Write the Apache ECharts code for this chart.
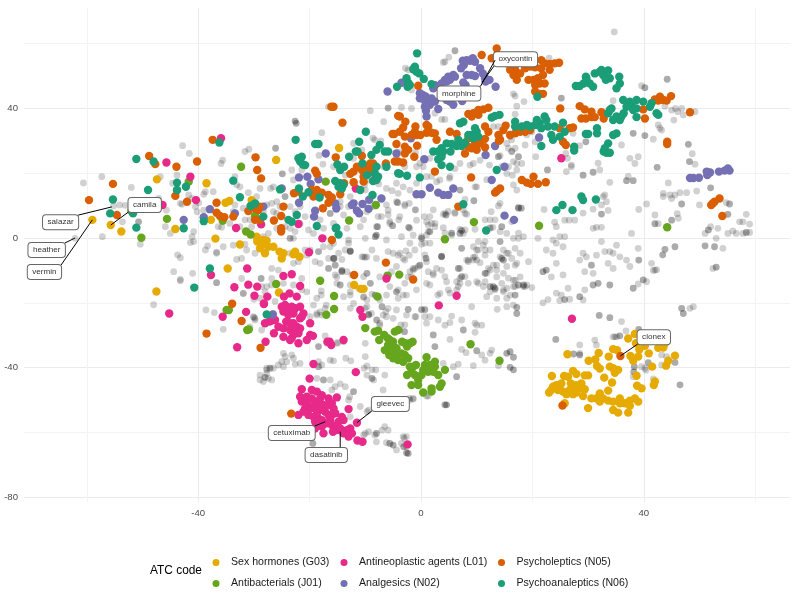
<!DOCTYPE html>
<html><head><meta charset="utf-8">
<style>html,body{margin:0;padding:0;background:#fff}#c{width:800px;height:595px}</style>
<script src="https://cdn.jsdelivr.net/npm/echarts@6/dist/echarts.min.js"></script>
</head><body><div id="c"></div>
<script>
const seriesNames=['Sex hormones (G03)','Antibacterials (J01)','Antineoplastic agents (L01)','Analgesics (N02)','Psycholeptics (N05)','Psychoanaleptics (N06)'];
const xTicks=[-60,-40,-20,0,20,40,60];
const yTicks=[-80,-60,-40,-20,0,20,40,60];
const xTickLabels=[-40,0,40];
const yTickLabels=[-80,-40,0,40];
const sexHormones=[[-14.7,27.8],[-26,24.1],[-47.4,18.1],[-38.5,16.9],[-35.1,10.9],[-34.4,11.4],[-30.4,11.7],[-37.7,5.6],[-44.1,2.8],[-36.9,-.2],[-59,5.6],[-55.7,4],[-53.8,2],[-29.5,.4],[-28.3,-.6],[-29.4,-1.1],[-27.7,-.8],[-28.6,-2.2],[-28.9,-3.2],[-27.4,-2.7],[-26.5,-2.7],[-25.4,-4.2],[-24.7,-4.7],[-25,-6.3],[-28,-4.7],[-22.6,-4.2],[-22.9,-5],[-21.8,-5.8],[-32.5,-2],[-34.7,-9.4],[-47.5,-16.5],[-25.5,-16.8],[-12,-14.5],[-10.8,-15.7],[-10.3,-15.7],[26.3,-35.9],[30.1,-37.9],[31.3,-37.5],[31.9,-35.5],[33.7,-36.6],[34.5,-34.3],[35.2,-34.6],[37.2,-31],[38.4,-29.6],[38.6,-32.5],[39.2,-34.4],[40.2,-33.3],[42.6,-33.9],[43.5,-33.8],[43.8,-32.5],[37.6,-36.4],[38.1,-37.9],[39,-36.6],[40.9,-35.6],[45.6,-36.3],[44.4,-37.9],[44,-39.4],[41.5,-39.7],[31.6,-39.5],[32.1,-40.3],[33.9,-39.7],[34.5,-40.2],[35.4,-40.7],[34.8,-41.6],[32.9,-43.1],[34.3,-44.6],[38.7,-42.5],[38.8,-45.6],[39.6,-46.4],[42,-44.3],[41.8,-45.4],[23.5,-42.6],[25.7,-42.6],[26.4,-42.8],[27.3,-41],[27.9,-42],[29.4,-42.4],[30,-42.4],[23,-47.7],[23.7,-45.9],[24.3,-45.4],[25.2,-44.9],[23.4,-46.9],[24.6,-46.9],[25.5,-47.4],[26.1,-48.2],[26.9,-44.9],[27.9,-45.4],[28.8,-44.9],[27,-46.9],[27.9,-47.7],[28.8,-46.4],[29.4,-46.7],[29.1,-48.8],[30.6,-49.5],[32.1,-48],[33.6,-47.1],[31.5,-49.5],[32.7,-49.5],[33.6,-50.2],[34.5,-50.5],[35.7,-49.5],[35.7,-51],[36.6,-51],[37.5,-50.2],[38.4,-49.5],[39,-50.5],[37.5,-51.8],[37.2,-53.9],[35.4,-53.9],[34.5,-53.1],[30,-52.5],[25.8,-51],[32.1,-50.5],[27.3,-48.2],[26.7,-46.9],[24.9,-45.9]];
const antibacterials=[[-10,-27.8],[-8.3,-28.9],[-7.7,-28.6],[-4.7,-28.9],[-4.1,-28.4],[-7.5,-31.5],[-6.6,-29.9],[-6,-30.9],[-5.6,-31.5],[-5,-32],[-5.9,-33],[-6.5,-34.6],[-5.6,-35.1],[-5,-34],[-4.4,-34],[-3.4,-32],[-2.8,-32.5],[-2.5,-33.5],[-2,-32.5],[-1.5,-32],[-5.7,-36.1],[-5,-37.1],[-4.4,-36.1],[-3.5,-35.6],[-4.1,-37.7],[-3.2,-38.2],[-2.3,-37.1],[-2.9,-36.1],[-2,-39.7],[-1.4,-39.7],[-.9,-39.2],[-1.7,-41.3],[-2.5,-42.3],[-1.1,-42.3],[-.5,-43.8],[-1.7,-45.4],[-.5,-45.4],[1,-36.8],[.7,-39.2],[1.6,-39.2],[2.5,-38.2],[.4,-40.7],[.1,-42.3],[1.3,-41.3],[2.2,-41.3],[3.1,-42.3],[4.3,-40.7],[3.7,-44.9],[3.4,-45.9],[1.9,-46.4],[1.9,-47.4],[.4,-47.7],[2.5,-39.7],[-34.9,-22.2],[-34.5,-22.2],[-31.2,-28.4],[-30.9,-28.2],[-26,-14.2],[-18.1,-13.2],[-15.6,-17.9],[-17,-23.7],[-15.6,-21.9],[-7.8,-18.1],[-6,-11.6],[-3.9,-11.3],[8.9,-32.8],[14.1,-37.9],[9.5,4.9],[4.3,-.4],[21.2,3.8],[44.2,3.3],[-32.3,22],[-41.7,17.4],[-43.8,14.8],[-45.6,5.9],[-35.6,5.3],[-52,8.3],[-50.2,.1],[-29.8,6.9],[-31.4,2],[-30.6,1.1],[-17.1,17.4],[-12.9,5.4],[-8.1,10.2]];
const antineoplastic=[[-35.9,30.8],[-45.7,23.3],[-41.4,18.9],[-46.4,10.2],[-40.4,11.7],[-33.2,3.1],[-28.7,4.2],[-22,4.3],[-17.7,-.1],[-11.7,15.3],[-20.1,-4.4],[-31.2,-9.4],[-37.7,-11.4],[-24.7,-11.7],[-23.2,-11.2],[-6.2,-12.5],[-33.5,-15.2],[-31,-14.4],[-29.4,-15],[-29.9,-17.8],[-27.6,-18.1],[-28.2,-20.4],[-21.7,-14.8],[-24.6,-18.1],[-23.6,-17.1],[-22.3,-18.1],[-45.2,-23.3],[-35.6,-24.3],[-31.4,-22.8],[-28.2,-20.2],[-25,-21.2],[-24.4,-20.7],[-23.2,-21.2],[-22.6,-21.7],[-24.1,-22.2],[-24.7,-22.7],[-23.8,-23.8],[-22.9,-23.3],[-21.7,-21.2],[-21.1,-23.3],[-21.7,-24.8],[-21.4,-24.3],[-24.2,-25.8],[-25.6,-27.4],[-24.7,-27.9],[-22.9,-26.3],[-23.5,-26.3],[-22.3,-27.4],[-21.7,-27.9],[-23.5,-28.4],[-22.6,-28.9],[-22,-29.4],[-23.2,-30.9],[-22.9,-29.9],[-22,-32.5],[-20.5,-31.5],[-19.9,-26.3],[-19.9,-29.9],[-19.4,-30.2],[-26.4,-29.4],[-27.9,-32],[-26.2,-25.3],[-27.2,-25.8],[-28,-26.3],[-26.8,-25.5],[-16.4,-32],[-16.8,-32],[-16.1,-33],[-13.9,-31.5],[-19.3,-38.9],[-11.7,-41.4],[-20,-43.4],[-10.9,-22.2],[-10.5,-24.3],[3.2,-20.8],[-21.4,-46.7],[-19.6,-46.9],[-18.7,-47.4],[-17.8,-48.5],[-16.6,-49.5],[-15.1,-49.2],[-21.7,-49],[-21.4,-50.5],[-20.5,-49],[-19.6,-49.5],[-19,-50.5],[-18.4,-51.5],[-20.5,-51],[-19.9,-52.6],[-19.3,-52.1],[-17.5,-51.5],[-16,-51],[-15.7,-52.6],[-20.8,-52.6],[-22,-54.6],[-20.2,-54.6],[-19.3,-55.2],[-18.4,-55.7],[-17.8,-56.2],[-19,-56.7],[-16.6,-54.6],[-17.2,-53.6],[-16,-54.6],[-16.3,-56.2],[-15.4,-54.1],[-14.2,-55.2],[-13.9,-56.2],[-14.8,-56.7],[-15.1,-58.2],[-16,-57.7],[-16.9,-57.2],[-17.8,-58.2],[-19,-58.7],[-17.5,-60.3],[-15.8,-59.8],[-15.1,-59.3],[-14.5,-58.8],[-13.9,-60.3],[-13,-61.3],[-12.7,-58.8],[-12.4,-60.3],[-13.3,-59.3],[-13,-52.8],[-11.5,-57],[-11.4,-62.5],[-10.5,-62.9],[-18.1,-49.5],[-16.6,-51.5],[-18.1,-53],[-18.7,-54.1],[-21.1,-53.6],[-2.4,-63.7],[6.4,-17.8],[27.1,-24.9],[25.2,24.6],[-33,-33.7],[-24.7,-30.5],[-23.5,-31.5]];
const analgesics=[[-6,45.2],[-3.5,47.9],[7.5,54.7],[7.7,53.4],[8.2,54.9],[8.8,54.7],[9.3,55.5],[9.7,54.4],[7.2,52.4],[10.6,52.4],[11.1,50.8],[11.5,49.3],[12.3,48.8],[11.6,48.3],[13.4,46.7],[8.2,50.3],[9.1,50.3],[9.7,50],[7.6,48],[8,47.2],[4.9,49.8],[5.8,50.3],[6.1,49.8],[4.3,48.8],[3.7,47.7],[5.2,48.8],[4.6,48.3],[2.5,47.2],[2.2,46.2],[2.8,46.7],[-.2,44.7],[.4,44.1],[.9,43.6],[-.2,43.1],[.7,42.4],[1.9,43.1],[2.5,42.1],[1.6,41.1],[.7,40.5],[.9,39.3],[3.1,39.8],[1,37.5],[4.6,42.6],[5.2,42.1],[5.8,41.1],[7.4,42.3],[-1.8,30.8],[13.3,28.4],[11.6,25.6],[.6,24.3],[-17.1,26.1],[15,22],[12.7,17.9],[21.2,31],[1.6,15.5],[3.1,14],[4,13.3],[4.9,13.3],[-.8,13.5],[.1,13.5],[5.8,15.3],[15,6.9],[16.7,5.6],[48.3,18.5],[48.9,18.5],[49.9,18.6],[51.4,19.4],[51.9,20.2],[51.3,20.5],[53.5,20.5],[54.5,20.8],[55.1,21.5],[55.4,20.8],[-15.4,10.7],[-15.2,9.2],[-12.1,10.7],[-12.4,10.2],[-10.5,10.5],[-9.3,11.8],[-7.1,12.2],[-11.5,8.4],[-11.1,7.6],[-9.4,9],[-21.9,18.7],[-20.4,18.9],[-18.4,18.1],[-19.8,16.7],[-25,15.3],[-21.9,10.9],[-28.3,9.7],[-33.4,7.6],[-37.9,8.9],[-39,6.4],[-42.6,5.6],[-19,8.4],[-19.2,6.6],[-4.4,26.1],[-26.6,-23.6]];
const psycholeptics=[[13.6,58.5],[10.9,56.5],[12.7,55.5],[15.4,53.9],[16.3,52.9],[16.9,51.9],[16.6,50.3],[17.2,48.8],[17.8,50.8],[18.7,52.4],[16,51.9],[16.9,53.4],[19.6,52.9],[20.5,52.7],[21.6,54.9],[22.2,53.9],[23.1,53.7],[24,53.9],[24.8,54.1],[21.6,52.4],[21.9,50.3],[21,49.3],[20.2,48.8],[19.3,48.8],[21.3,47.7],[22.2,47.7],[20.5,47.2],[20.5,45.2],[21.3,44.5],[21.9,44.5],[23.1,51.9],[-.5,47],[25,40],[28.5,40.7],[29.4,39.7],[28.8,36.9],[29.6,36.9],[30.6,39],[30.6,37.3],[31.2,37.3],[32.4,38.8],[32.8,36.9],[39.9,39.7],[40.2,36.9],[42,42.8],[42.9,43.6],[42.6,42.4],[43.5,42.6],[44.1,42.4],[44.9,43.8],[48.3,38.8],[44.2,29.7],[44.2,29],[8.5,38.3],[9.4,38.5],[10.3,39.5],[11.2,39.7],[12.1,40.2],[10.3,38],[9.1,37.5],[15.2,34.7],[14.8,33.3],[13.9,31.8],[14.2,30.3],[16,31.8],[16.9,32.3],[17.8,32.8],[18.7,32.8],[19.6,33.3],[11.5,34.4],[12.1,32.8],[11.5,30.6],[14,30],[10.6,29.2],[9.7,29.7],[8.5,30.8],[8.5,28.2],[9.1,27.7],[10,27.2],[9.7,28.7],[7.9,26.1],[11.5,28],[5.2,32.8],[6.4,32.1],[1,34.9],[1.3,34.4],[1,32.5],[1.9,32.5],[2.5,32.3],[2.8,30.3],[-.7,28.5],[-1.2,25.1],[-2.9,28.2],[-1,34.4],[-1.1,32.8],[-.8,31.8],[-1.7,31.8],[-2.9,31.3],[-.1,31.8],[-3.8,37.5],[-2.8,35.9],[-3.2,34.1],[-3.8,32.8],[-2.3,27.2],[-2.9,26.1],[-3.2,23.3],[2.5,20.5],[9,18.7],[24.9,33.9],[26.7,33.9],[27.3,34.1],[25.5,29.7],[26,28.7],[18.1,17.9],[19,17.1],[19.7,16.7],[20.2,18.9],[21,16.7],[22.4,17.2],[13.3,14],[14.2,15.3],[13.6,14.5],[6.7,9.7],[52.1,10.2],[52.7,11.2],[53.6,12.2],[54.1,6.8],[52.4,10.7],[-15.7,40.5],[-16.1,40.5],[-14.1,35.6],[-4.1,37.7],[-5.1,32.1],[-4.8,32.1],[-4.4,29],[-4.7,23.6],[-4.1,23.6],[-15.3,24.9],[-37.4,30.3],[-48.8,25.3],[-47.7,22.8],[-43.9,22],[-40.2,23.6],[-55.3,16.7],[-59.6,11.7],[-54.6,7.1],[-44.1,13],[-42,11.2],[-36.7,10.9],[-36.7,7.8],[-36.1,6.8],[-35.3,6.4],[-33.7,6.6],[-31,8.3],[-29.8,9.2],[-29.2,8.6],[-29,9.7],[-29.8,5.6],[-28.9,5.6],[-26.4,5.4],[-25.1,6.8],[-24.7,9.7],[-25.1,3],[-25.1,2],[-29.7,24.9],[-29.4,21],[-28.7,18.4],[-19,20.8],[-18.7,19.8],[-22.8,13.8],[-22,14.3],[-19.6,14.8],[-19,13.8],[-18.7,14.8],[-17.8,14],[-19.3,12.8],[-16.6,13.3],[-16,12.5],[-16.6,10.9],[-17.6,9.2],[-14.5,13.5],[-13.8,16.9],[-12.1,17.2],[-12.7,19.8],[-12.1,20.5],[-11.5,22],[-10.6,25.3],[-10.6,21],[-9.7,22],[-9.1,23],[-8.9,21],[-8.6,23],[-10.3,18.9],[-10.3,17.4],[-9,20.2],[-6.3,23],[-16,-.6],[-12,-11.4],[-6.3,-7.6],[-33.9,-20.3],[-32.2,-25.6],[-38.5,-29.5],[-28.8,-33.9],[-23.3,-54.2],[-1.4,-12.8],[35.8,-36.4],[25.4,-51.7]];
const psychoanaleptics=[[-.7,57],[-1.1,52.9],[-1.4,52.1],[-.8,51.3],[-.3,50.8],[-1.1,51.9],[.5,49.1],[1.9,47.5],[-2.6,49.3],[-2.3,47.9],[-2.4,46.7],[-2,47.2],[-4.3,46.7],[27.8,46.9],[28.5,46.9],[29.2,47.7],[29.7,49.3],[30.3,47.7],[30.9,46.7],[29.6,49.8],[31.2,50.8],[32.1,51.3],[32.7,50.3],[32.4,51.9],[33.6,51.7],[33.2,48.8],[33.9,49.3],[33,49.8],[35.6,49.8],[35.7,47.7],[35.1,46.2],[36.3,42.6],[37.5,42.1],[38.7,42.6],[39.9,42.1],[37.8,41.1],[38.7,40],[36.9,40.5],[36,37.5],[35.1,37.5],[34.2,40],[33.6,38.5],[34.5,36.4],[35.7,36.4],[36.4,38.5],[38.1,39.5],[41.1,40.5],[41.4,41.6],[42.3,38.5],[42.6,38],[38.7,37.3],[20.9,43.6],[33.9,39.5],[12.7,37.2],[13.3,37.7],[14.1,38],[7,35.4],[7.6,35.9],[9.7,33.9],[9.1,31.8],[10,32.8],[8.5,31.8],[9.4,30.8],[10.3,31.3],[4.6,29.2],[5.5,29],[6.4,28.4],[7.3,28.4],[7.9,29.4],[6.7,30.3],[2.2,26.7],[3.1,26.7],[3.7,27.7],[4,26.7],[3.7,25.1],[3.1,24.3],[3.7,22.5],[5.2,22],[5.3,26.7],[16.9,35.9],[16.9,34.4],[18.1,34.4],[19,34.9],[19.6,34.4],[20.8,36.4],[21.3,35.4],[20.5,34.9],[21.6,33.9],[22.2,37.5],[22.5,36.4],[22.8,34.4],[23.4,31.8],[24,34.4],[23.7,30.3],[24.9,31.3],[25.5,35.6],[25.8,32.8],[21.6,28.4],[29.6,32.1],[30,32.1],[31.6,33.9],[31.6,32.3],[35.1,32.3],[34.5,31.8],[27.5,28.2],[27.5,27],[33.6,29.2],[33,27.7],[32.8,26.7],[33.3,26.3],[33.9,26.3],[13.6,21],[-2.5,19.2],[-.2,18.7],[-3.8,19.8],[28.8,12.8],[29.1,11.7],[31.4,11.9],[25.4,10.2],[24.3,8.6],[27.2,8.6],[7.6,10.4],[11.7,2.3],[-51.1,24.4],[-48,23.6],[-49,14.8],[-43.8,17.1],[-43.8,14.8],[-42.2,15.8],[-55.3,11.9],[-55.8,7.6],[-51.7,7.6],[-51.1,3.2],[-42.6,3],[-39,5.2],[-36.2,29.5],[-33.7,17.7],[-32.5,12.6],[-30.6,9.9],[-29.8,10.7],[-28.3,6.6],[-23.8,5.6],[-23.2,5],[-22.3,7.1],[-18.7,3.7],[-22.5,30.3],[-19,29],[-18.4,29],[-21.4,25.1],[-22,24.6],[-21.7,23.6],[-21.2,22.7],[-20.8,22.5],[-25.3,15],[-21.9,15.3],[-21.2,12.8],[-20.2,14.1],[-18.2,12.5],[-15.2,3.2],[-14.8,1.1],[-15.4,17.6],[-14.5,16.9],[-14.8,15.8],[-14.2,15.3],[-13.9,16.4],[-15,22.7],[-14.5,21],[-13.8,22],[-12.9,25.1],[-11.7,26.7],[-11.4,26.7],[-11.1,29.7],[-9.9,32.8],[-10.5,23],[-8.9,25.6],[-8,27.2],[-7.4,28.7],[-6.5,26.7],[-5.9,26.7],[-8,22],[-6.2,22],[-9.7,19.4],[-8.3,20],[-7.7,18.9],[-8.6,17.6],[-8,17.9],[-8.7,13.3],[-4.1,20],[-10.9,14.8],[-40.7,-15.3],[-37.9,-9.4],[-27.7,-23.6],[-15.3,3]];
const otherDrugs=[[-60.6,17],[-57.3,18.9],[-52,15.6],[-55.2,9.9],[-54.1,10.2],[-53.1,10.1],[-53.6,5],[-57.2,.4],[-62.1,-.1],[-50.4,-1.9],[-47.1,12.2],[-46.8,18.9],[-43.8,19.4],[-44.6,16.9],[-45.7,8.6],[-45.9,3.5],[-45,1.4],[-43.7,-5.2],[-43.2,-6.1],[-44.4,-10.4],[-41,-10.9],[-43.2,-12.8],[-42.8,28.5],[-41.6,26.1],[-35.9,23],[-35.6,24],[-37.3,14.3],[-38.7,14.3],[-39,13.5],[-41.7,13.3],[-41.1,12.2],[-43.2,10.7],[-42.9,10.4],[-40.5,9.7],[-39.9,10.9],[-39,8.6],[-40.2,8.1],[-36.4,3.5],[-35.8,3.3],[-40.8,2],[-41.1,.4],[-41.4,-1.4],[-40.8,-1.1],[-38.3,-2.4],[-36.7,-4.4],[-38.7,-3.7],[-35.5,-2.7],[-36.7,-4.7],[-33.7,-2.2],[-33.1,-6.6],[-32.2,-6.3],[-31.3,-3.7],[-29.8,-4.7],[-31.6,-1.9],[-28.6,-2.7],[-33.4,18.9],[-33.1,16.4],[-32.5,15.8],[-31,14],[-28.9,15.3],[-27,15.3],[-29.5,12.8],[-33.4,10.2],[-31.9,9.2],[-33.7,8.1],[-30.7,5.6],[-31.6,5.6],[-32.5,3.5],[-34.3,4.5],[-30.4,3.5],[-31.6,26.7],[-30.9,27.4],[-17.8,32.5],[-9.1,39.3],[-6.7,35.9],[-8.3,30.3],[-8.6,30.8],[-16.6,40.5],[-18.3,25.5],[-17.6,22.8],[-21.4,21],[-22.9,17.9],[-23.2,21],[-26.5,15.8],[-26.8,10.7],[-25.9,11.2],[-27.7,10.2],[-28.3,8.1],[-26.5,8.1],[-25.9,7.6],[-25.3,9.7],[-23.5,9.7],[-22.6,8.1],[-21.7,9.7],[-20.8,6.6],[-21.7,4.5],[-22.6,2],[-23.5,3],[-24.4,3.5],[-25.9,3],[-27.4,1.4],[-28.3,.4],[-22.9,-.1],[-19.3,1.4],[-20.2,2.5],[-18.1,5.6],[-15.7,4.5],[-13.9,7.1],[-17.5,3],[-13.3,3],[-10.9,3.5],[-8,3.5],[-6.2,-.6],[-4.4,11.2],[-5.9,8.6],[-10.3,5.6],[-9.7,8.1],[-19.9,-3.7],[-17.5,-2.7],[-16.3,-2.7],[-15.7,-1.6],[-13,-1.6],[-10.6,-5.8],[-10,-6],[-8.8,-3.7],[-5.9,-4.2],[-8,-6.3],[-16.6,-6.3],[-19,-7.3],[-18.1,-7.8],[-15.4,-8.4],[-7.4,-12],[-4.4,-8.8],[-5.3,-10.4],[-20.5,-5.3],[-20.8,-3.7],[-23.5,-4.7],[-22,-7.3],[-22.9,-7.8],[-26.8,-9.4],[-25.6,-9.9],[-21.4,-12.5],[-26.8,-12.5],[-32.2,-12.5],[-12.1,29.2],[-10.6,27.2],[-7.2,30],[-3.8,26.4],[-6.7,22],[-12.1,24.6],[-15.7,22],[-13.6,19.4],[-11.9,16.9],[-10,14.8],[-6.2,15.3],[-4.4,16.9],[-4.1,13.8],[-6.2,10.2],[-12.7,12.8],[-13,9.7],[-14.5,9.7],[-3.8,6.6],[-5.6,4.5],[-14.5,11.2],[-15.2,8.7],[-14.6,15.8],[-10.1,16.4],[-9.4,17.9],[-7.6,16.7],[-5.2,14.6],[-3.2,15.8],[-2,14.8],[1,18.9],[2.8,17.4],[5.2,18.9],[9.7,15.8],[11.8,18],[10,15.8],[16.6,16.4],[17.2,14.8],[17.5,9.5],[13.9,9.9],[12.6,8.1],[14.2,10.7],[16.4,19.4],[-8.6,9.7],[-7.7,6.6],[-7.1,6.6],[-5.9,7.2],[-5.6,5.1],[-4,5.6],[-2.9,10.4],[-2.1,10.7],[-2.9,9.9],[-2,3],[.6,6.6],[1.6,6.6],[2.2,8.7],[4.3,7.6],[6.1,7.6],[7.9,7.6],[7.6,8.7],[1.3,4],[2.5,4.5],[4.3,1.5],[7.9,2.5],[7,2.7],[9.7,2.7],[11.5,5.6],[12.4,5.6],[13.3,5.6],[16.6,-.1],[17.5,-.1],[18.4,.4],[10.3,-1.1],[11.5,-1.1],[9.4,-2.7],[10,-3.7],[7.3,-3.2],[11.5,-3.7],[8.2,-6.8],[9.7,-5.8],[10,-6.8],[-10,-.1],[-13,-.6],[-3.5,.4],[1,.9],[.1,-1.9],[-1.4,.9],[1.6,-1.6],[-13.6,-3.7],[-15.4,-8.4],[-14.8,-4.7],[-14.2,-6.6],[-10.3,-5.8],[-9.7,-5.8],[-5,-4.7],[-4.1,-5.3],[-2.7,-4],[-2.1,-5.3],[-3.2,-6.3],[-.5,-8.8],[-1.1,-9.4],[-2,-10.4],[-1.7,-12],[-2.9,-14],[-1.4,-9.9],[-.2,-8.4],[2.2,-11.4],[3.7,-9.9],[4.3,-11.9],[6.4,-16],[7,-14],[7.9,-11.9],[4.6,-13.5],[1.6,-14.5],[1,-14],[-2.6,-17.6],[-4.1,-16],[-10.3,-11.9],[-12.4,-11.4],[-13.3,-10.4],[-15.4,-11.4],[-15.1,-14],[-12.7,-14.5],[-14.5,-14.5],[-8.8,-17.3],[-10.3,-18.3],[-11.2,-15.5],[-4.1,-18.6],[-.8,-16],[3,-17.6],[5.2,-17],[8.5,-6.8],[9.4,-6],[10.6,-7.6],[11.5,-5.3],[13,-8.4],[13.6,-9.9],[14.8,-3.7],[15.4,-4.7],[16.3,-6.3],[17.2,-7.8],[11.8,-10.9],[12.4,-9.9],[11.5,-13.5],[14.5,-14],[14.8,-10.9],[15.7,-12.4],[16.6,-13],[18.4,-15],[19,-14.5],[16.6,-15],[15.4,-15.5],[14.8,-16.6],[13.6,-18.6],[11.8,-18.1],[10.3,-14],[11.2,-15],[34.7,63.6],[5,55.8],[4,54.2],[4.3,54.4],[23,55.5],[-2.8,52.4],[-2.3,51.9],[-1.7,45.7],[-1.7,40],[-3.5,40.3],[16.6,44.5],[16.9,43.8],[18.5,42.1],[17.2,40.7],[16.9,38.2],[34.5,42.4],[39.6,47],[43.8,40.7],[45,39.5],[45.7,40],[46.8,40],[46.1,39],[47.1,38],[45.4,36.4],[49.2,39],[3.7,36.6],[4.3,36.6],[2.5,38.5],[13,34.4],[13.9,34.4],[14.2,31.3],[16,31.3],[15.4,29.2],[16.3,30.3],[16.9,27.7],[15.7,27.7],[18.7,28.7],[20.5,29.7],[19,31.8],[19.9,32.8],[27.3,32.3],[26,26.1],[26.3,24.6],[27,22.5],[28.5,28.5],[31.8,23.1],[32.1,21],[26.1,20.5],[27,22],[20.6,25.1],[17.2,23],[16.6,23.6],[18.1,23],[17.2,21],[15.7,22],[15.4,19.9],[14.2,25.4],[14.5,22],[12.3,22.5],[10.6,24],[9.4,23],[8.8,22.5],[7,23],[6.1,21.4],[5.1,18.4],[42.9,33.9],[43.2,33.3],[42.6,34.9],[41.7,30.5],[36,28.7],[37.5,24.6],[39,25.1],[38.4,23],[48.7,26],[49.2,22.8],[37.2,19],[33.9,17.2],[44.4,17],[32.7,12.8],[33.3,11.2],[32.4,10.2],[33.6,8.5],[30.9,8.9],[29.1,7.7],[27.6,5.5],[25.8,5.5],[26.6,5.5],[24,4.9],[22.1,8.8],[33,13.3],[31.5,3.3],[32.4,3.3],[30.9,3],[24.3,3.5],[37.8,1.4],[43.5,13.8],[44.7,13.3],[46.5,14],[47.7,14],[49.5,14.5],[43.5,12.8],[45,12.2],[50,10.2],[54.8,10.9],[45.6,13.3],[40.5,10.5],[39.1,8.8],[42,7.1],[42.6,4.4],[46,7.5],[46.2,6.1],[58.4,7.3],[57.2,5],[57.8,5],[59,4.3],[56,2.2],[57.8,1.4],[56.6,1.4],[59,1.7],[55.1,1.4],[52,3.5],[51,1.4],[53,-.1],[54.2,-3.2],[53.3,3],[41.4,-7.8],[42,-9.9],[52.4,-9.4],[21,-.1],[22.5,-3.7],[23.7,-.6],[24.9,.4],[25.8,.4],[25.5,-2.7],[24.3,-1.6],[23.7,-4.7],[25.5,-11.4],[24.3,-7.8],[29.1,-4.7],[28.5,-6.8],[29.7,-5.8],[31.5,-5.3],[32.4,-1.1],[33,-4.2],[33.9,-4.2],[34.5,-4.7],[35.1,-2.2],[35.7,-5.8],[36.9,-6.8],[37.5,-8.8],[39,-3.2],[33.6,-7.8],[34.5,-9.4],[29.4,-10.4],[30.9,-10.9],[23.4,-12],[12.4,-3.7],[14.2,-5.8],[15.7,-4.7],[16.9,-3.2],[17.8,-4.7],[19.3,-7.3],[16.9,-8.4],[15.4,-8.8],[13.6,-8.4],[12.1,-9.4],[9.4,-6.8],[8.5,-7.3],[10.3,-3.7],[11.2,-2.2],[7.3,-3.2],[1,-7.3],[-.2,-8.4],[2.8,-9.4],[-1.4,-9.4],[7,-9.4],[-2.3,-12],[.7,-5.2],[7,-12.5],[17.8,-12],[13.6,-12],[-2,-1.6],[.1,.4],[-1.1,-3.7],[-3.8,-4.7],[-2.9,-6.8],[.7,-1.6],[-1,26.4],[-.2,23.1],[-2.9,22],[-.8,22],[.4,22],[1.6,24.6],[-.8,16.9],[1.9,19],[3.4,17.9],[7.9,11.9],[8.2,7.3],[4,7.3],[4.9,8.2],[6.1,7.9],[-.8,5.5],[1,5],[1.9,4.5],[2.5,3.5],[1.3,2],[4,3.2],[7.6,1.4],[5.5,.9],[12.9,3.3],[14.2,2],[15.4,1.4],[17.5,1.5],[16.3,5],[1.3,-10.4],[2.2,-10.9],[6.4,-13.5],[6.7,-15],[4.9,-16],[3.4,-17.1],[8.5,-14],[10,-13.5],[12.4,-16.6],[13.3,-16],[14.8,-16],[16.9,-13],[18.7,-15],[19.9,-15.3],[16.9,-15],[16,-17.6],[15.4,-18.6],[16.6,-20.7],[15.4,-21.2],[13.7,-22],[21.9,-20],[22.8,-19],[24.3,-17],[25.2,-17.6],[26.7,-18.9],[24.9,-19.3],[26.4,-15.5],[29.1,-19.1],[29.4,-16],[39,-14.2],[40.5,-13.5],[41.7,-10],[42.3,-9.8],[48.3,-21.7],[48.9,-21.2],[36,-25.8],[36.8,-28.7],[34.5,-30.5],[35.1,-30.5],[34.8,-30.5],[31.2,-31.5],[31.5,-33],[28.5,-33],[28.5,-35.6],[43.2,-36.1],[44.1,-36.6],[43.2,-39.2],[40.2,-40.2],[40.4,-40.8],[39.6,-39.7],[38.1,-42.8],[41.7,-43.5],[3.1,-25.3],[5.5,-24.1],[7.3,-25.3],[5.2,-26.1],[4.3,-26.9],[1,-26.3],[.7,-24.3],[1.6,-24.3],[-3.8,-28.4],[-2.9,-28.9],[9.7,-26.3],[10,-26.9],[10.9,-26.9],[9.7,-29.1],[5.2,-31.3],[2.2,-29.9],[7.3,-34.4],[8.1,-35.4],[12.7,-34.6],[10.9,-36.1],[11.5,-37.7],[12.4,-35.6],[13.9,-39.4],[9.4,-39.4],[6.7,-38.9],[5.8,-39.7],[4,-38.7],[-1.1,-24.3],[.1,-22],[.7,-22],[9.1,-21.2],[-2,-50],[-1.4,-49.5],[1.3,-48.8],[-3.2,-61.3],[-3.5,-63.4],[-30.1,-24.3],[-29.8,-25.3],[-28.6,-28.4],[-30.7,-27.4],[-28,-16.6],[-28.9,-18.6],[-27.4,-18.1],[-26.2,-19.6],[-20.5,-16.6],[-17.2,-30.2],[-16.9,-32.5],[-15,-32.2],[-24.7,-35.6],[-24.4,-36.6],[-25,-38.2],[-24.1,-38.2],[-22.9,-37.1],[-22.6,-38.9],[-24.7,-39.7],[-25.6,-39.2],[-23.2,-36.1],[-21.7,-38.7],[-18.4,-38.2],[-17.8,-39.2],[-16.3,-37.7],[-15.7,-37.9],[-27.7,-40.2],[-26.5,-40.2],[-27.7,-41.8],[-28.9,-42.3],[-27.4,-43.3],[-26.8,-43.8],[-28.9,-43.8],[-28.3,-44.3],[-27.7,-40.7],[-18.7,-43.3],[-16,-46.9],[-15.4,-45.9],[-14.5,-45],[-13.6,-45.9],[-16.3,-43.8],[-12.8,-49],[-13,-50],[-10,-36.6],[-9.7,-39.5],[-10.2,-40.2],[-13.5,-37.1],[-12.6,-37.9],[-6.5,-42.3],[-8.5,-43.8],[-8.8,-40.7],[-8.1,-40.7],[-6.8,-46.9],[-9.7,-42.3],[-10.9,-52],[-9.7,-53.6],[-9.4,-53.1],[-12.7,-55.2],[-10,-60.3],[-9.4,-59.8],[-8.3,-60.8],[-6.5,-58.2],[-5.9,-59.3],[-7,-59.3],[-6.2,-63.2],[-4.4,-65.4],[-2.6,-61.3],[-3,-61.8],[-2.6,-64.4],[-8,-62.9],[-10.3,-60.8],[-2.1,-49.5],[-1.4,-49.7],[1,-48.8],[2.2,-29.9],[.1,-22.2],[.7,-22.2],[-3.2,-17.6],[-.9,-24.3],[-2.6,-23.8],[-3.6,-26.8],[-3,-28.9],[-10,-32.5],[-13.9,-32],[-15,-32.5],[-9.4,-23.8],[-7.4,-19.1],[-6.3,-22.7],[-6.2,-24.3],[-5.9,-21.7],[-10.3,-18.1],[-9.7,-19.1],[-10,-21.7],[-7.9,-25.3],[-7.4,-26.3],[-5,-24.8],[-2.9,-26.8],[-4.4,-22.2],[-13.9,-18.1],[-12.7,-16.6],[-12.7,-21.7],[-17.8,-23.8],[-18.7,-23.8],[-17.2,-21.7],[-48,-20.6],[-38.6,-22.2],[-37.1,-23],[-35.5,-28.2],[-43.2,-13.2],[-30,-18.9],[-30,-24.5],[-28.6,-15],[-27.7,-15],[-26.8,-14.5],[-24.7,-14],[-22.9,-14.5],[-21.4,-16],[-17.9,-16.3],[-17.9,-17.6],[-18.7,-18.6],[-19.3,-20.7],[-18.7,-23.3],[-19.9,-24.3],[-18.1,-22.8],[-17,-20.7],[-26.5,-23.3],[-29.8,-24.8],[-15.1,-12],[-14.5,-14.5],[-12.7,-17.6],[-12.1,-20.2],[-9.7,-21.2],[-8.9,-23.3],[-8,-25.3],[-6.8,-23.8],[-7.4,-26.9],[-6.2,-17.6],[-5.6,-15]];
const otherStacked=[[-50.7,5],[-26.1,27.7],[-24.9,19.8],[-22.6,36.1],[-22.4,35.4],[-5.9,40.1],[-24.4,12.8],[-23.5,-.1],[-16.3,7.6],[-8,.9],[-18.4,-4.2],[-12.7,-4.2],[-15.7,-6.3],[-16.6,-9.4],[-14.2,-10.4],[-9.7,-10.9],[-28.7,-12.5],[7,14.8],[9.5,11.5],[17.5,9.2],[18,9.2],[-5.1,3.8],[-7.8,3.5],[-4.2,10.9],[-1,8.7],[-2.2,3.3],[4.5,7.1],[1.6,2],[5.5,1.5],[7.3,2.3],[14.5,3.5],[14.2,-1.1],[-8.2,.4],[.1,-.1],[3.7,-5.6],[.9,-6.3],[-12.7,-4],[-15.6,-6.3],[6.7,-9.4],[-4.4,-16.6],[-9.1,-14],[-14.2,-10],[-8.2,-17.6],[13,-15],[13.3,-15.5],[17.5,-14.5],[14.5,-6.3],[6.1,57.8],[25.2,43.2],[40.2,46.4],[44.2,49],[16.3,26.7],[29.6,29.7],[30.9,20.3],[29.1,19.4],[22.7,21],[17.5,25.1],[13.9,25.1],[38.1,32.3],[40.2,31.6],[42.4,21.8],[48,28.9],[48.2,23.6],[38.1,17.7],[36.9,17.7],[32.4,7.4],[46.8,10.5],[55.4,10.5],[42,4.4],[45,5.5],[52,15.5],[55.1,7.3],[58.4,1.7],[51.6,2.5],[52.7,-2.7],[51,-2.4],[43.8,-3.5],[45.6,-2.7],[43.4,-5.2],[53,-9],[22.5,-9.9],[30.6,-8.4],[39.1,-6.8],[21.9,-10.4],[14.8,-6.8],[3.7,-5.8],[7,1.4],[12.4,3.1],[7.3,-11.9],[11.5,-10.9],[12.4,-15],[18.4,-14.5],[16.9,-17.6],[17.2,-21.4],[17.2,-23.3],[25.8,-19],[28.5,-18.1],[30.9,-14.5],[31.8,-14],[33.9,-14.5],[38.1,-15.5],[39.9,-12.9],[46.8,-21.7],[47.1,-23.3],[32,-23.9],[33.9,-24.6],[39.1,-28.2],[35.7,-30.2],[24.2,-31.3],[28.5,-36.1],[27.4,-35.8],[45.6,-38.4],[40.8,-38.5],[38.3,-39.7],[38.2,-41.3],[46.5,-45.3],[7.6,-28.4],[2.5,-33.5],[10,-34.8],[15.4,-35.6],[16,-35.1],[16.6,-36.8],[16.6,-40.7],[16,-39.9],[6.4,-42.8],[-2.3,-22],[4.3,-51.5],[-3.1,-64.4],[-2.6,-66.3],[-18.4,-33.5],[-18.4,-39.7],[-27.1,-40.2],[-28,-43],[-17.5,-43.8],[-12.1,-47.4],[-8.8,-43.3],[-8,-60.3],[-5.6,-63.4],[-5,-63.9],[-2.3,-66.5],[-19.4,-63.4],[4.6,-51.5],[-7,-21.2],[-36.7,-13.8],[-31.9,-17.1],[-9.4,-23.6]];
const labelNames=['oxycontin','morphine','salazar','camila','heather','vermin','gleevec','cetuximab','dasatinib','clonex'];
const labelPointX=[11,13.3,-55.5,-55.7,-62.1,-59,-11.5,-17.2,-14.5,35.8];
const labelPointY=[48.1,54.9,9.6,4,0,5.6,-57,-56.7,-59.8,-36.4];
const labelBoxX=[16.97,6.82,-64.7,-49.6,-67.2,-67.6,-5.5,-23.2,-17,41.8];
const labelBoxY=[55.2,44.6,4.9,10.2,-3.7,-10.5,-51.2,-60.2,-67,-30.6];

const colors=['#E6AB02','#66A61E','#E7298A','#7570B3','#D95F02','#1B9E77'];
const groups=[sexHormones,antibacterials,antineoplastic,analgesics,psycholeptics,psychoanaleptics];
const font='"Liberation Sans", Arial, sans-serif';
const chart=echarts.init(document.getElementById('c'),null,{renderer:'canvas'});
const greyData=otherDrugs.concat(otherStacked,otherStacked);
const labelData=labelNames.map((n,i)=>[labelPointX[i],labelPointY[i],labelBoxX[i],labelBoxY[i],n]);
const legendCols=[[0,1,212.5],[2,3,340.5],[4,5,498]];
const measureCtx=document.createElement('canvas').getContext('2d');
measureCtx.font='8.1px "Liberation Sans"';
const clamp=(v,lo,hi)=>Math.min(hi,Math.max(lo,v));
chart.setOption({
  animation:false,
  backgroundColor:'#fff',
  title:{text:'ATC code',left:145,top:560,textStyle:{fontFamily:font,fontSize:11.9,fontWeight:'normal',color:'#000'}},
  grid:{left:24,right:10,top:8,bottom:93},
  xAxis:{type:'value',min:-71.27,max:66.25,
    axisLine:{show:false},
    axisTick:{show:false,customValues:xTicks},
    axisLabel:{customValues:xTickLabels,margin:6,fontFamily:font,fontSize:9.6,color:'#4D4D4D'},
    splitLine:{show:true,showMinLine:true,showMaxLine:true,lineStyle:{color:['#f3f3f3','#ebebeb'],width:1}}},
  yAxis:{type:'value',min:-81.48,max:70.99,
    axisLine:{show:false},
    axisTick:{show:false,customValues:yTicks},
    axisLabel:{customValues:yTickLabels,margin:6,fontFamily:font,fontSize:9.6,color:'#4D4D4D'},
    splitLine:{show:true,lineStyle:{color:['#ebebeb','#f3f3f3'],width:1}}},
  legend:legendCols.map(c=>({
    orient:'vertical',left:c[2],top:556,itemWidth:7,itemHeight:7,itemGap:8,icon:'circle',selectedMode:false,
    padding:0,data:[seriesNames[c[0]],seriesNames[c[1]]],
    textStyle:{fontFamily:font,fontSize:10.6,color:'#1a1a1a',padding:[0,0,0,6.5],lineHeight:13}
  })),
  series:[
    {type:'scatter',name:'Other',data:greyData,symbolSize:6.8,itemStyle:{color:'#000',opacity:0.18},silent:true,z:1},
    ...groups.map((g,i)=>({type:'scatter',name:seriesNames[i],data:g,symbolSize:8.4,itemStyle:{color:colors[i],opacity:1},z:2})),
    {type:'custom',name:'labels',z:5,coordinateSystem:'cartesian2d',clip:false,data:labelData,
     renderItem:(p,api)=>{
       const a=api.coord([api.value(0),api.value(1)]);
       const b=api.coord([api.value(2),api.value(3)]);
       const name=labelNames[p.dataIndex];
       const hw=measureCtx.measureText(name).width/2+4.5, hh=7;
       const sx=clamp(a[0],b[0]-hw,b[0]+hw), sy=clamp(a[1],b[1]-hh,b[1]+hh);
       return {type:'group',children:[
         {type:'line',shape:{x1:a[0],y1:a[1],x2:sx,y2:sy},style:{stroke:'#000',lineWidth:1}},
         {type:'text',x:b[0],y:b[1],style:{text:name,align:'center',verticalAlign:'middle',fontFamily:font,fontSize:8.1,fill:'#333',
           backgroundColor:'#fff',borderColor:'#666',borderWidth:1,borderRadius:3,padding:[3,4.5,3,4.5]}}
       ]};
     }}
  ]
});
</script></body></html>
